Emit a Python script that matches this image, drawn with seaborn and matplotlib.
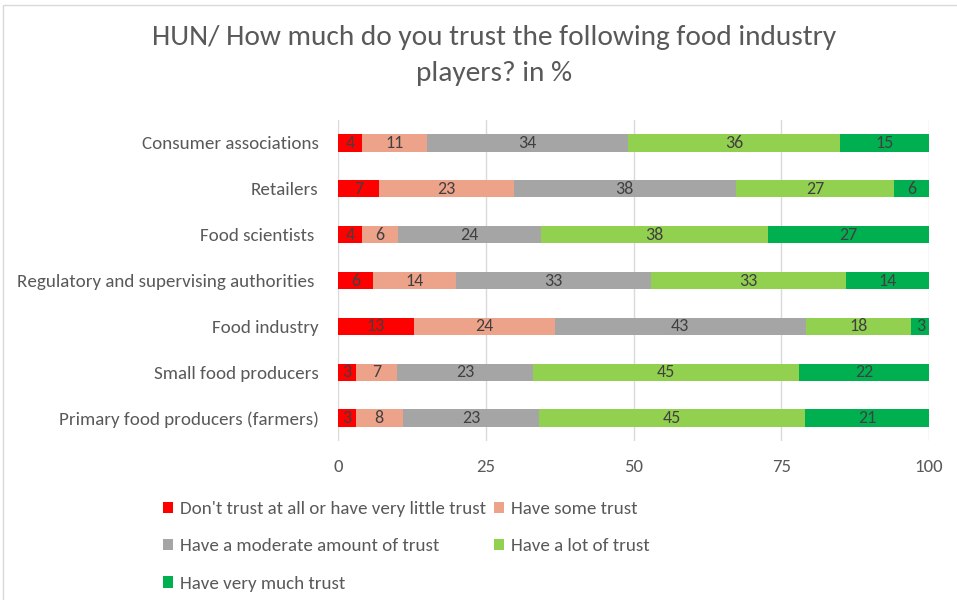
import matplotlib
matplotlib.use("Agg")
import matplotlib.pyplot as plt
from matplotlib.patches import Patch, Rectangle
import numpy as np
import pandas as pd
import seaborn as sns

# Survey categories (top to bottom) and answer shares in %
players = [
    "Consumer associations",
    "Retailers",
    "Food scientists ",
    "Regulatory and supervising authorities ",
    "Food industry",
    "Small food producers",
    "Primary food producers (farmers)",
]
levels = [
    "Don't trust at all or have very little trust",
    "Have some trust",
    "Have a moderate amount of trust",
    "Have a lot of trust",
    "Have very much trust",
]
no_trust = [4, 7, 4, 6, 13, 3, 3]
some_trust = [11, 23, 6, 14, 24, 7, 8]
moderate_trust = [34, 38, 24, 33, 43, 23, 23]
lot_trust = [36, 27, 38, 33, 18, 45, 45]
very_much_trust = [15, 6, 27, 14, 3, 22, 21]
x_ticks = [0, 25, 50, 75, 100]

colors = ["#FF0000", "#EDA28A", "#A5A5A5", "#92D050", "#00B050"]

series = [no_trust, some_trust, moderate_trust, lot_trust, very_much_trust]
vals = np.array(series, dtype=float)          # shape (levels, players)
shares = vals / vals.sum(axis=0) * 100        # 100% stacked
cum = np.cumsum(shares, axis=0)

df = pd.DataFrame({"player": players})
for i in range(len(levels)):
    df[f"cum{i}"] = cum[i]

sns.set_theme(style="white")
FONT = ["Carlito", "Liberation Sans", "DejaVu Sans"]
plt.rcParams["font.family"] = FONT

fig = plt.figure(figsize=(9.57, 6.0), dpi=100)
ax = fig.add_axes([338 / 957, 1 - 441 / 600, (929 - 338) / 957, 321 / 600])

# layered cumulative bars, widest first so narrower ones sit on top
for i in reversed(range(len(levels))):
    sns.barplot(data=df, x=f"cum{i}", y="player", order=players, orient="h",
                color=colors[i], saturation=1, width=0.38, ax=ax,
                edgecolor="none", linewidth=0, zorder=3)

# segment value labels
for i in range(len(levels)):
    left = cum[i] - shares[i]
    for j in range(len(players)):
        ax.text(left[j] + shares[i][j] / 2, j, f"{int(vals[i][j])}",
                ha="center", va="center", fontsize=13, color="#404040", zorder=5)

ax.set_xlim(0, 100)
ax.set_ylim(len(players) - 0.5, -0.5)
ax.set_xticks(x_ticks)
ax.set_xticklabels([str(t) for t in x_ticks])
ax.set_xlabel("")
ax.set_ylabel("")
ax.grid(axis="x", color="#D9D9D9", linewidth=1, zorder=0)
ax.grid(axis="y", visible=False)
for s in ax.spines.values():
    s.set_visible(False)
ax.tick_params(axis="x", length=0, labelsize=13.5, labelcolor="#595959", pad=13)
ax.tick_params(axis="y", length=0, labelsize=13.7, labelcolor="#595959", pad=14)

fig.text(494.5 / 957, 1 - 37 / 600, "HUN/ How much do you trust the following food industry",
         ha="center", va="center", fontsize=21.2, color="#595959")
fig.text(494.5 / 957, 1 - 73 / 600, "players? in %",
         ha="center", va="center", fontsize=21.2, color="#595959")

# legend: row-major order (2 columns)
order = [0, 2, 4, 1, 3]
handles = [Patch(facecolor=colors[k], edgecolor="none", label=levels[k]) for k in order]
fig.legend(handles=handles, ncol=2, loc="upper left",
           bbox_to_anchor=(163 / 957, 1 - 501 / 600), frameon=False,
           fontsize=13.7, labelcolor="#595959", handlelength=0.55, handleheight=0.55,
           handletextpad=0.35, columnspacing=0.4, labelspacing=1.12, borderpad=0,
           borderaxespad=0)

# chart-area frame
fig.patches.append(Rectangle((3 / 957, -0.05), 1.1, 1 - 5 / 600 + 0.05,
                             transform=fig.transFigure, fill=False,
                             edgecolor="#D9D9D9", linewidth=1))

fig.savefig("out.png", dpi=100)
